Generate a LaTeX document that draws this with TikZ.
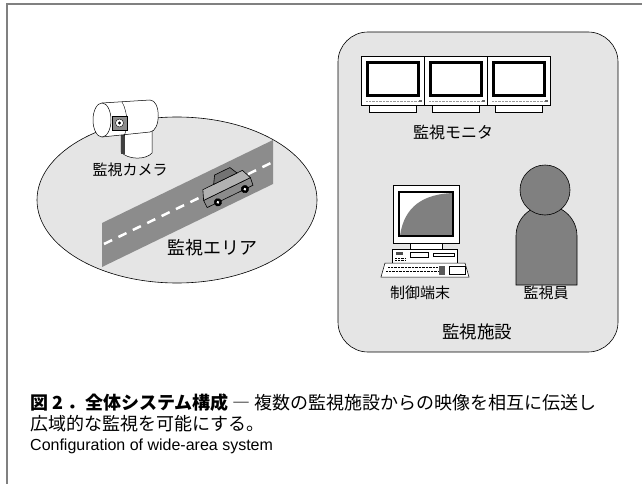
\documentclass[tikz,border=0pt]{standalone}
\usepackage{fontspec}
\setmainfont{Liberation Sans}
\newfontfamily\jp{Noto Sans CJK JP}
\definecolor{areagray}{gray}{0.9}
\definecolor{roadgray}{gray}{0.55}
\definecolor{mangray}{gray}{0.5}
\tikzset{
  lbl/.style={inner sep=0pt, font=\jp\fontsize{15}{18}\selectfont},
  captxt/.style={anchor=west, inner sep=0pt},
  unit/.style={draw, fill=white, line width=0.5pt}
}
\begin{document}
\begin{tikzpicture}[x=1pt, y=-1pt]
\useasboundingbox (0,0) rectangle (642,484);
\draw[black!50, line width=1.2pt] (7,484) -- (7,4) -- (642,4);

% monitored area with road and car
\draw[fill=areagray, line width=0.6pt] (177,200) ellipse [x radius=140, y radius=83];
\fill[roadgray] (102,223) -- (273,140) -- (273,184) -- (102,267) -- cycle;
\draw[white, line width=2.5pt, dash pattern=on 9pt off 7pt] (104,244) -- (273,162);
\begin{scope}[shift={(227,189)}, rotate=26]
\draw[fill=black!45, line width=0.6pt] (-26,0) -- (-26,8) -- (25,8) -- (26,0) -- cycle;
\draw[fill=black!30, line width=0.6pt] (-26,0) -- (-22,-10) -- (22,-10) -- (26,0) -- cycle;
\draw[fill=black!55, line width=0.6pt] (-10,-10) -- (-5,-18) -- (12,-18) -- (16,-10) -- cycle;
\foreach \wx in {-14,16} {
  \draw[fill=black] (\wx,8) circle [radius=3.8];
  \fill[white] (\wx,8) circle [radius=1.5];
}
\end{scope}

% camera
\draw[unit] (121,130) -- (121,152) .. controls (128,160) and (146,160) .. (152,153) -- (152,130) -- cycle;
\fill[black!75] (121,134) rectangle (125,154);
\draw[unit] (102,103) -- (150,100) .. controls (161,100) and (161,131) .. (150,132) -- (102,137) -- cycle;
\draw (122,102) .. controls (128,112) and (128,128) .. (124,136);
\draw[unit] (102,120) ellipse [x radius=9, y radius=17];
\draw[fill=black!45] (112,116) rectangle (127,130);
\draw[fill=white] (119.5,123) circle [radius=4];
\fill (119.5,123) circle [radius=1.6];
\node[lbl] (camlbl) at (130,170) {監視カメラ};
\node[lbl, font=\jp\fontsize{18}{20}\selectfont] (arealbl) at (212,248) {監視エリア};

% monitoring facility
\draw[fill=areagray, line width=0.6pt, rounded corners=30pt] (338,32) rectangle (618,352);
\foreach \i in {0,1,2} {
\begin{scope}[shift={(63*\i,0)}]
\draw[unit] (369,105) rectangle (416,112);
\draw[unit] (361,56) rectangle (424,105);
\draw[fill=white, line width=3pt] (367,63) rectangle (418,96);
\draw[black!40, densely dotted] (366,101) -- (418,101);
\fill[black!60] (419,100) rectangle (422,102);
\end{scope}
}
\node[lbl, font=\jp\fontsize{16}{18}\selectfont] (monlbl) at (453,132) {監視モニタ};

% control terminal
\draw[unit] (410,243) rectangle (442,249);
\draw[unit] (393,185) rectangle (459,243);
\fill[white] (399,192) rectangle (453,236);
\fill[mangray] (400,236) .. controls (404,206) and (424,194) .. (453,193) -- (453,236) -- cycle;
\draw[line width=2pt] (399,192) rectangle (453,236);
\draw[unit] (392,249) rectangle (457,263);
\fill[black!70] (396,252) rectangle (403,255);
\draw (410,252) rectangle (428,257);
\draw (433,253) rectangle (454,256);
\draw[densely dotted] (395,258) -- (406,258) (395,260) -- (406,260);
\draw[unit] (385,263) -- (465,263) -- (469,277) -- (381,277) -- cycle;
\draw[densely dotted] (388,267) -- (438,267) (386,271) -- (438,271);
\fill[black!65] (439,266) rectangle (445,275);
\draw (449,266) rectangle (465,274);
\node[lbl] (termlbl) at (420,293) {制御端末};

% operator
\draw[fill=mangray, line width=0.6pt] (516,285) -- (516,236) arc [start angle=180, end angle=360, radius=30.5] -- (577,285) -- cycle;
\draw[fill=mangray, line width=0.6pt] (545,190) circle [radius=25];
\node[lbl] (oplbl) at (546,293) {監視員};
\node[lbl, font=\jp\fontsize{17.5}{20}\selectfont] (faclbl) at (477,332) {監視施設};

% caption
\node[captxt, font=\jp\fontsize{18}{20}\selectfont] (cap1) at (30,403) {{\bfseries 図 2 ．全体システム構成} ― 複数の監視施設からの映像を相互に伝送し};
\node[captxt, font=\jp\fontsize{18}{20}\selectfont] (cap2) at (30,424) {広域的な監視を可能にする。};
\node[captxt, font=\fontsize{16}{19}\selectfont] (cap3) at (30,446) {Configuration of wide-area system};
\end{tikzpicture}
\end{document}
